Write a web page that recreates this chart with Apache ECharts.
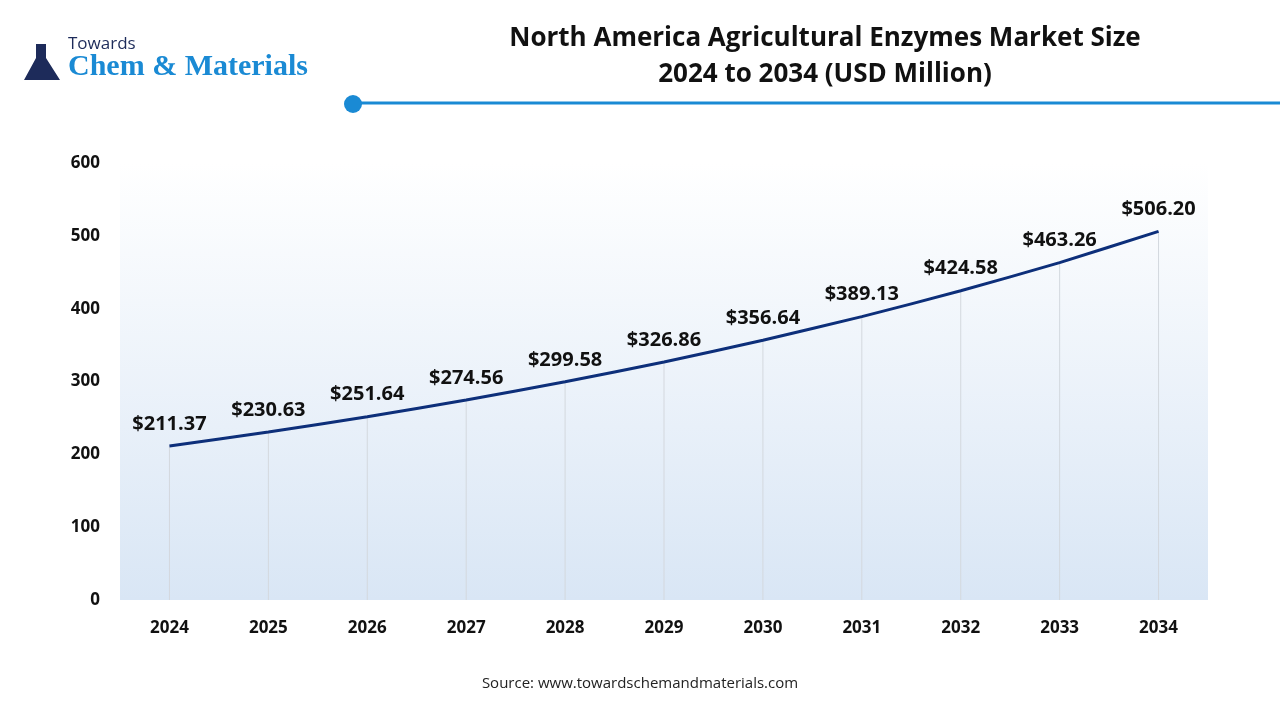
<!DOCTYPE html>
<html>
<head>
<meta charset="utf-8">
<script src="https://cdn.jsdelivr.net/npm/echarts@6/dist/echarts.min.js"></script>
<style>
  html, body { margin: 0; padding: 0; background: #fff; }
  #chart { width: 1280px; height: 720px; }
</style>
</head>
<body>
<div id="chart"></div>
<script>
// Datos del gráfico
const years = ['2024', '2025', '2026', '2027', '2028', '2029', '2030', '2031', '2032', '2033', '2034'];
const marketSize = [211.37, 230.63, 251.64, 274.56, 299.58, 326.86, 356.64, 389.13, 424.58, 463.26, 506.20];
const yTicks = { min: 0, max: 600, interval: 100 };

const chart = echarts.init(document.getElementById('chart'));

chart.setOption({
    animation: false,
    textStyle: { fontFamily: 'Open Sans' },
    title: {
        text: 'North America Agricultural Enzymes Market Size\n2024 to 2034 (USD Million)',
        left: 820, top: 16, textAlign: 'center',
        textStyle: { fontSize: 26, fontWeight: 'bold', color: '#111', lineHeight: 36 }
    },
    graphic: [
        { type: 'line', shape: { x1: 353, y1: 103, x2: 1280, y2: 103 }, style: { stroke: '#1a8ad4', lineWidth: 3 } },
        { type: 'circle', shape: { cx: 353, cy: 104, r: 9 }, style: { fill: '#1a8ad4' } },
        { type: 'text', left: 68, top: 36, style: { text: 'Towards', fontSize: 17, fill: '#1d2b5a', fontFamily: 'Open Sans' } },
        { type: 'text', left: 68, top: 52, style: { text: 'Chem & Materials', fontSize: 30, fill: '#1a8ad4', fontFamily: 'Liberation Serif', fontWeight: 'bold' } },
        { type: 'polygon', shape: { points: [[36, 44], [46, 44], [46, 58], [60, 80], [24, 80], [36, 58]] }, style: { fill: '#1d2b5a' } },
        { type: 'text', left: 'center', top: 676, style: { text: 'Source: www.towardschemandmaterials.com', fontSize: 15, fill: '#222', fontFamily: 'Open Sans' } }
    ],
    grid: {
        left: 120, right: 72, top: 163, bottom: 120,
        show: true, borderWidth: 0,
        backgroundColor: {
            type: 'linear', x: 0, y: 0, x2: 0, y2: 1,
            colorStops: [{ offset: 0, color: '#ffffff' }, { offset: 1, color: '#d9e6f5' }]
        }
    },
    xAxis: {
        type: 'category',
        data: years,
        axisLine: { show: false },
        axisTick: { show: false },
        axisLabel: { fontSize: 17, fontWeight: 'bold', color: '#111', margin: 20 }
    },
    yAxis: {
        type: 'value',
        min: yTicks.min, max: yTicks.max, interval: yTicks.interval,
        splitLine: { show: false },
        axisLabel: { fontSize: 17, fontWeight: 'bold', color: '#111', margin: 20 }
    },
    series: [
        {
            type: 'bar',
            data: marketSize,
            barWidth: 1,
            itemStyle: { color: '#d3d8de' },
            silent: true,
            label: {
                show: true, position: 'top', distance: 12,
                fontSize: 20, fontWeight: 'bold', color: '#111',
                formatter: p => '$' + p.value.toFixed(2)
            }
        },
        {
            type: 'line',
            data: marketSize,
            smooth: 0.2,
            symbol: 'none',
            lineStyle: { color: '#0d2f7a', width: 3 }
        }
    ]
});
</script>
</body>
</html>
